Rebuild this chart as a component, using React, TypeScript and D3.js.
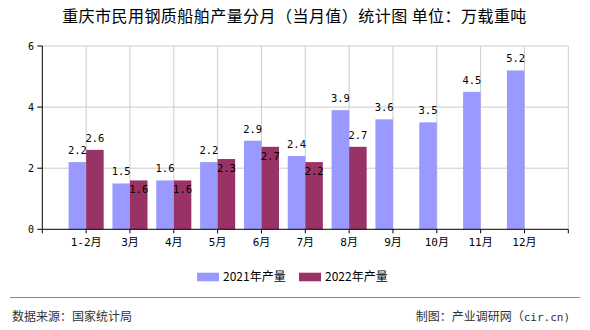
import React from "react";
import * as d3 from "d3";

const categories = ["1-2月", "3月", "4月", "5月", "6月", "7月", "8月", "9月", "10月", "11月", "12月"];
const values2021 = [2.2, 1.5, 1.6, 2.2, 2.9, 2.4, 3.9, 3.6, 3.5, 4.5, 5.2];
const values2022 = [2.6, 1.6, 1.6, 2.3, 2.7, 2.2, 2.7];
const yTicks = [0, 2, 4, 6];
const seriesNames = ["2021年产量", "2022年产量"];
const title = "重庆市民用钢质船舶产量分月（当月值）统计图 单位：万载重吨";
const sourceText = "数据来源：国家统计局";
const makerText = "制图：产业调研网（";
const makerTail = "cir.cn)";

const W = 590;
const H = 330;
const C1 = "#9999ff";
const C2 = "#993366";
const monoFont = "'DejaVu Sans Mono', 'Noto Sans CJK SC', monospace";
const cjkFont = "'Noto Sans CJK SC', sans-serif";

export default function App() {
  const left = 42.3;
  const right = 568.3;
  const top = 46;
  const bottom = 229.3;
  const x = d3.scaleLinear().domain([0, 12]).range([left, right]);
  const y = d3.scaleLinear().domain([0, 6]).range([bottom, top]);
  const step = x(1) - x(0);
  const bw = step * 0.4;
  const gridX = d3.range(1, 13);
  const tickX = d3.range(0, 13);

  return (
    <svg
      width={W}
      height={H}
      style={{ position: "absolute", left: 0, top: 0, background: "#fff" }}
    >
      <rect x={0} y={0} width={W} height={H} fill="#fff" />
      <text
        x={294.5}
        y={21.5}
        textAnchor="middle"
        fontSize={16}
        letterSpacing={0.45}
        fontFamily={cjkFont}
        fill="#000"
      >
        {title}
      </text>

      {/* grid */}
      {yTicks.filter((t) => t > 0).map((t) => (
        <line key={"gy" + t} x1={left} x2={right} y1={y(t)} y2={y(t)} stroke="#cccccc" strokeWidth={1} />
      ))}
      {gridX.map((g) => (
        <line key={"gx" + g} x1={x(g)} x2={x(g)} y1={top} y2={bottom} stroke="#cccccc" strokeWidth={1} />
      ))}

      {/* bars */}
      {values2021.map((v, i) => (
        <rect key={"a" + i} x={x(i + 1) - bw} y={y(v)} width={bw} height={bottom - y(v)} fill={C1} />
      ))}
      {values2022.map((v, i) => (
        <rect key={"b" + i} x={x(i + 1)} y={y(v)} width={bw} height={bottom - y(v)} fill={C2} />
      ))}

      {/* axes */}
      <line x1={left} x2={left} y1={top} y2={bottom} stroke="#000" strokeWidth={1} />
      <line x1={left} x2={right} y1={bottom} y2={bottom} stroke="#000" strokeWidth={1} />
      {yTicks.map((t) => (
        <g key={"yt" + t}>
          <line x1={left - 5} x2={left} y1={y(t)} y2={y(t)} stroke="#000" />
          <text x={34} y={y(t) + 4} textAnchor="end" fontSize={10} fontFamily={monoFont} fill="#000">
            {t}
          </text>
        </g>
      ))}
      {tickX.map((t) => (
        <line key={"xt" + t} x1={x(t)} x2={x(t)} y1={bottom} y2={bottom + 4} stroke="#000" />
      ))}
      {categories.map((c, i) => (
        <text key={"xl" + i} x={x(i + 1)} y={246} textAnchor="middle" fontSize={11} fontFamily={monoFont} fill="#000">
          {c}
        </text>
      ))}

      {/* labels */}
      {values2021.map((v, i) => (
        <text key={"la" + i} x={x(i + 1) - bw / 2} y={y(v) - 8} textAnchor="middle" fontSize={10.5} fontFamily={monoFont} fill="#000">
          {v.toFixed(1)}
        </text>
      ))}
      {values2022.map((v, i) => {
        const aboveC = y(v) - 12;
        const otherC = y(values2021[i]) - 12;
        const inside = Math.abs(aboveC - otherC) < 11;
        const yy = inside ? y(v) + 13 : y(v) - 8;
        return (
          <text key={"lb" + i} x={x(i + 1) + bw / 2} y={yy} textAnchor="middle" fontSize={10.5} fontFamily={monoFont} fill="#000">
            {v.toFixed(1)}
          </text>
        );
      })}

      {/* legend */}
      <rect x={197} y={272.7} width={22} height={8.6} fill={C1} />
      <text x={223} y={281} fontSize={12} fontFamily={cjkFont} fill="#000">{seriesNames[0]}</text>
      <rect x={299} y={272.7} width={22} height={8.6} fill={C2} />
      <text x={325} y={281} fontSize={12} fontFamily={cjkFont} fill="#000">{seriesNames[1]}</text>

      {/* footer */}
      <line x1={10} x2={580} y1={297.5} y2={297.5} stroke="#888" strokeWidth={1} />
      <text x={12} y={321} fontSize={12} fontFamily={cjkFont} fill="#333">{sourceText}</text>
      <text x={570} y={321} textAnchor="end" fontSize={12} fontFamily={cjkFont} fill="#333">
        {makerText}
        <tspan fontFamily={monoFont} fontSize={11}>{makerTail}</tspan>
      </text>
    </svg>
  );
}
